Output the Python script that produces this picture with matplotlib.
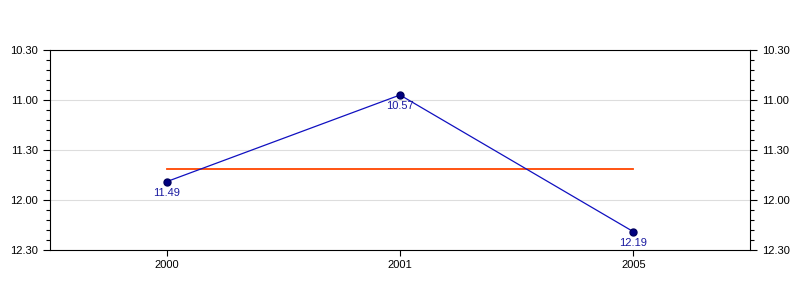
import matplotlib
matplotlib.use("Agg")
from matplotlib import pyplot as plt
from matplotlib.ticker import MultipleLocator, FuncFormatter

plt.rcParams['font.family'] = ['Liberation Sans', 'DejaVu Sans']

years = ['2000', '2001', '2005']
# times as minutes.seconds, as shown on the labels
time_labels = ['11.49', '10.57', '12.19']


def to_minutes(s):
    m, sec = s.split('.')
    return int(m) + int(sec) / 60.0


def fmt_time(v, pos=None):
    m = int(v + 1e-9)
    sec = int(round((v - m) * 60))
    if sec == 60:
        m, sec = m + 1, 0
    return '%d.%02d' % (m, sec)


values = [to_minutes(s) for s in time_labels]
average = sum(values) / len(values)

fig = plt.figure(figsize=(8, 3), dpi=100)
ax = fig.add_axes([50 / 800, 50 / 300, 700 / 800, 200 / 300])

xs = list(range(len(years)))
ax.plot([xs[0], xs[-1]], [average, average], color='#FF4500', lw=1.3, zorder=2)
ax.plot(xs, values, color='#1010C0', lw=0.9, marker='o', ms=5,
        mfc='#000080', mec='#000060', zorder=3)
for x, v, s in zip(xs, values, time_labels):
    ax.annotate(s, (x, v), xytext=(0, -4.5), textcoords='offset points',
                ha='center', va='top', fontsize=8, color='#1a1aa0')

ax.set_xlim(-0.5, 2.5)
ax.set_ylim(12.5, 10.5)
ax.set_xticks(xs)
ax.set_xticklabels(years)
ax.yaxis.set_major_locator(MultipleLocator(0.5))
ax.yaxis.set_minor_locator(MultipleLocator(0.1))
ax.yaxis.set_major_formatter(FuncFormatter(fmt_time))
ax.tick_params(axis='y', which='both', left=True, right=True,
               labelleft=True, labelright=True, direction='out',
               labelsize=8, width=0.8)
ax.tick_params(axis='y', which='major', length=5)
ax.tick_params(axis='y', which='minor', length=3)
ax.tick_params(axis='x', length=4, labelsize=8, width=0.8)
ax.grid(axis='y', color='#dddddd', lw=0.8)
ax.set_axisbelow(True)
for sp in ax.spines.values():
    sp.set_linewidth(0.8)

fig.savefig('out.png', dpi=100)
